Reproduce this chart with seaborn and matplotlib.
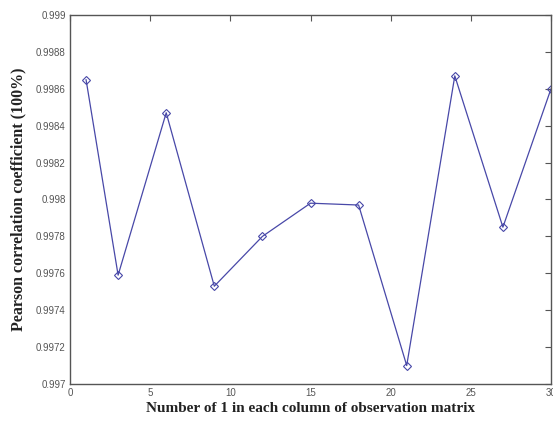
import matplotlib
matplotlib.use("Agg")
import matplotlib.pyplot as plt
import seaborn as sns
import pandas as pd

# Number of 1s per column of the observation matrix and resulting correlation
ones_per_column = [1, 3, 6, 9, 12, 15, 18, 21, 24, 27, 30]
pearson_coef = [0.99865, 0.99759, 0.99847, 0.99753, 0.99780, 0.99798,
                0.99797, 0.99710, 0.99867, 0.99785, 0.99860]

x_ticks = [0, 5, 10, 15, 20, 25, 30]
y_ticks = [0.997, 0.9972, 0.9974, 0.9976, 0.9978, 0.998,
           0.9982, 0.9984, 0.9986, 0.9988, 0.999]
y_tick_labels = ["0.997", "0.9972", "0.9974", "0.9976", "0.9978", "0.998",
                 "0.9982", "0.9984", "0.9986", "0.9988", "0.999"]

df = pd.DataFrame({"n": ones_per_column, "r": pearson_coef})

sns.set_style("white")
plt.rcParams["font.family"] = ["Liberation Sans", "DejaVu Sans"]

fig = plt.figure(figsize=(5.53, 4.21), dpi=100)
ax = fig.add_axes([0.1266, 0.0879, 0.8698, 0.8765])

line_color = "#4848a8"
sns.lineplot(data=df, x="n", y="r", ax=ax, color=line_color, linewidth=0.9,
             marker="D", markersize=4.5, markerfacecolor="none",
             markeredgecolor=line_color, markeredgewidth=0.8)

ax.set_xlim(0, 30)
ax.set_ylim(0.997, 0.999)
ax.set_xticks(x_ticks)
ax.set_xticklabels([str(t) for t in x_ticks])
ax.set_yticks(y_ticks)
ax.set_yticklabels(y_tick_labels)

ax.tick_params(axis="both", direction="in", length=4, width=0.8,
               colors="#555555", labelsize=7, labelcolor="#555555",
               top=True, right=True, pad=3)
for side in ["left", "bottom", "top", "right"]:
    ax.spines[side].set_visible(True)
    ax.spines[side].set_color("#555555")
    ax.spines[side].set_linewidth(1.0)

ax.set_xlabel("Number of 1 in each column of observation matrix",
              fontfamily=["Liberation Serif", "DejaVu Serif"],
              fontweight="bold", fontsize=11, color="#222222", labelpad=3)
ax.set_ylabel("Pearson correlation coefficient (100%)",
              fontfamily=["Liberation Serif", "DejaVu Serif"],
              fontweight="bold", fontsize=11.5, color="#222222", labelpad=7)

fig.savefig("out.png", dpi=100)
